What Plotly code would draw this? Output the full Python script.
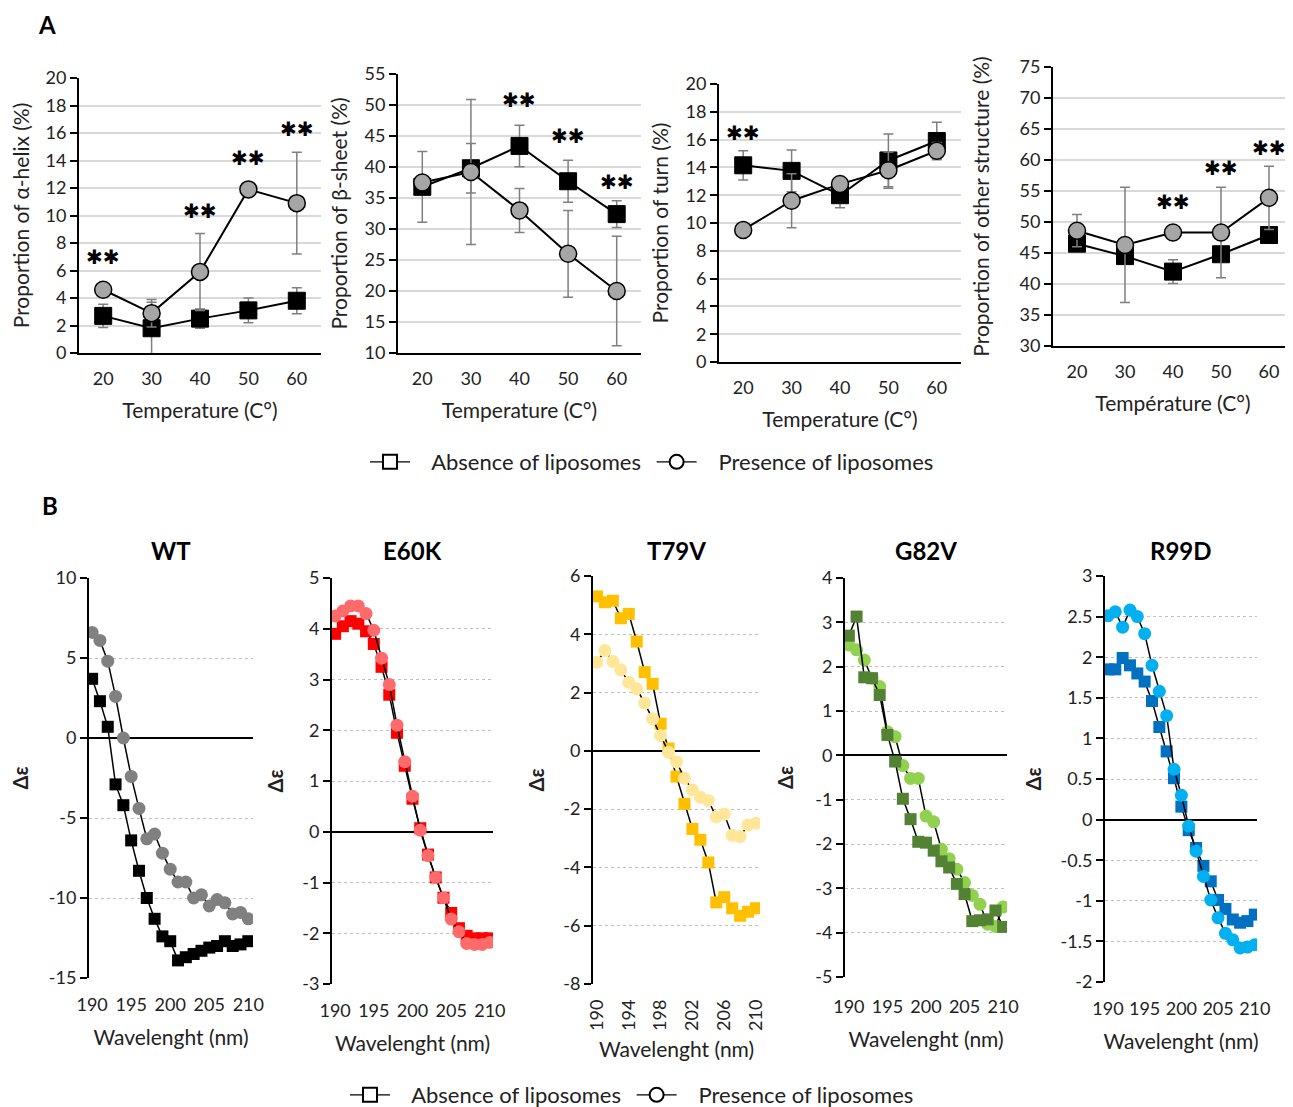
import plotly.graph_objects as go

# page offset (browser body margin) compensation
OX, OY = 8, 8
W, H = 1293 - OX, 1107 - OY
FONT = "Lato"

# ---------------- Panel A data ----------------
temps = [20, 30, 40, 50, 60]
temp_ticks = ["20", "30", "40", "50", "60"]

helix_abs = [2.7, 1.8, 2.5, 3.1, 3.8]
helix_abs_err = [0.85, 1.9, 0.7, 0.9, 0.95]
helix_pre = [4.6, 2.9, 5.9, 11.9, 10.9]
helix_pre_err = [0.3, 1.0, 2.8, 0.3, 3.7]
helix_star_t = [20, 40, 50, 60]
helix_star_y = [7.0, 10.3, 14.2, 16.3]

sheet_abs = [36.8, 39.8, 43.4, 37.7, 32.4]
sheet_abs_err = [5.7, 4.0, 3.35, 3.4, 2.15]
sheet_pre = [37.5, 39.2, 33.0, 26.0, 20.0]
sheet_pre_err = [1.0, 11.7, 3.55, 7.0, 8.85]
sheet_star_t = [40, 50, 60]
sheet_star_y = [50.8, 45.0, 37.6]

turn_abs = [14.15, 13.75, 12.0, 14.5, 15.9]
turn_abs_err = [1.05, 1.5, 0.9, 1.9, 1.35]
turn_pre = [9.5, 11.6, 12.8, 13.8, 15.2]
turn_pre_err = [0.3, 1.95, 0.3, 1.3, 0.6]
turn_star_t = [20]
turn_star_y = [16.5]

other_abs = [46.5, 44.5, 42.0, 44.8, 47.9]
other_abs_err = [0.7, 0.8, 1.9, 0.8, 0.8]
other_pre = [48.6, 46.3, 48.3, 48.3, 53.9]
other_pre_err = [2.6, 9.3, 0.5, 7.3, 5.1]
other_star_t = [40, 50, 60]
other_star_y = [53.2, 58.7, 61.9]

# ---------------- Panel B data ----------------
wavelength = list(range(190, 211))

wt_abs = [3.7, 2.3, 0.7, -2.9, -4.2, -6.4, -8.3, -10.0, -11.3, -12.4, -12.7,
          -13.9, -13.7, -13.5, -13.3, -13.1, -13.0, -12.7, -13.0, -12.9, -12.7]
wt_pre = [6.6, 6.1, 4.8, 2.6, 0.0, -2.4, -4.4, -6.3, -6.0, -7.2, -8.2,
          -9.0, -9.0, -10.0, -9.8, -10.5, -10.1, -10.3, -11.0, -10.9, -11.3]

e60k_abs = [3.9, 4.05, 4.15, 4.1, 3.95, 3.7, 3.25, 2.7, 1.95, 1.3, 0.65,
            0.07, -0.45, -0.9, -1.3, -1.6, -1.9, -2.05, -2.1, -2.1, -2.1]
e60k_pre = [4.25, 4.35, 4.45, 4.45, 4.3, 3.97, 3.42, 2.9, 2.1, 1.38, 0.7,
            0.03, -0.47, -0.9, -1.3, -1.72, -1.97, -2.2, -2.22, -2.22, -2.18]

t79v_abs = [5.3, 5.1, 5.15, 4.55, 4.7, 3.75, 2.7, 2.3, 0.93, 0.08, -0.88,
            -1.82, -2.68, -3.05, -3.83, -5.2, -5.02, -5.4, -5.66, -5.52, -5.4]
t79v_pre = [3.04, 3.44, 3.07, 2.78, 2.35, 2.13, 1.64, 1.1, 0.53, -0.05, -0.38,
            -0.94, -1.34, -1.59, -1.7, -2.27, -2.17, -2.9, -2.94, -2.54, -2.48]

g82v_abs = [2.7, 3.13, 1.76, 1.74, 1.36, 0.46, -0.14, -0.98, -1.44, -1.95, -1.97,
            -2.15, -2.39, -2.53, -2.9, -3.13, -3.74, -3.72, -3.7, -3.5, -3.87]
g82v_pre = [2.49, 2.38, 2.15, 1.74, 1.55, 0.53, 0.42, -0.23, -0.52, -0.52, -1.37,
            -1.5, -2.12, -2.33, -2.57, -2.87, -3.16, -3.36, -3.81, -3.86, -3.42]

r99d_abs = [1.85, 1.85, 1.99, 1.9, 1.8, 1.7, 1.46, 1.14, 0.84, 0.51, 0.16,
            -0.13, -0.35, -0.57, -0.76, -0.99, -1.1, -1.23, -1.27, -1.25, -1.17]
r99d_pre = [2.51, 2.56, 2.37, 2.58, 2.5, 2.29, 1.9, 1.58, 1.28, 0.62, 0.3,
            -0.08, -0.39, -0.7, -0.99, -1.21, -1.4, -1.48, -1.58, -1.57, -1.54]

fig = go.Figure()


def px(x):
    return (x - OX) / W


def py(y):
    return 1 - (y - OY) / H


def xd(p0, p1):
    return [max(0, px(p0)), min(1, px(p1))]


def yd(top, bot):
    return [py(bot), py(top)]


def fmt(v):
    s = ("%g" % v)
    return s


TICKFONT = dict(family=FONT, size=18, color="#222")
TITLEFONT = dict(family=FONT, size=21, color="#222")

# ---------------- Panel A ----------------
panelA = [
    dict(abs=helix_abs, abse=helix_abs_err, pre=helix_pre, pree=helix_pre_err,
         st=helix_star_t, sy=helix_star_y, yr=[0, 20], dt=2,
         ytitle="Proportion of α-helix (%)", xtitle="Temperature (C°)",
         xdom=(79, 321), ydom=(78, 353), ys=13),
    dict(abs=sheet_abs, abse=sheet_abs_err, pre=sheet_pre, pree=sheet_pre_err,
         st=sheet_star_t, sy=sheet_star_y, yr=[10, 55], dt=5,
         ytitle="Proportion of β-sheet (%)", xtitle="Temperature (C°)",
         xdom=(398, 641), ydom=(74, 353), ys=11),
    dict(abs=turn_abs, abse=turn_abs_err, pre=turn_pre, pree=turn_pre_err,
         st=turn_star_t, sy=turn_star_y, yr=[0, 20], dt=2,
         ytitle="Proportion of turn (%)", xtitle="Temperature (C°)",
         xdom=(719, 961), ydom=(84, 362), ys=11),
    dict(abs=other_abs, abse=other_abs_err, pre=other_pre, pree=other_pre_err,
         st=other_star_t, sy=other_star_y, yr=[30, 75], dt=5,
         ytitle="Proportion of other structure (%)", xtitle="Température (C°)",
         xdom=(1053, 1296), ydom=(67, 346), ys=24),
]

annotations = []
layout_axes = {}
for i, p in enumerate(panelA):
    n = i + 1
    xa, ya = f"x{n}", f"y{n}"
    err_style = dict(type="data", visible=True, color="#7f7f7f", thickness=1.5, width=5)
    fig.add_trace(go.Scatter(
        x=temps, y=p["abs"], mode="lines+markers", xaxis=xa, yaxis=ya,
        line=dict(color="black", width=2),
        marker=dict(symbol="square", size=17, color="black", line=dict(color="black", width=1)),
        error_y=dict(array=p["abse"], **err_style), showlegend=False, cliponaxis=False))
    fig.add_trace(go.Scatter(
        x=temps, y=p["pre"], mode="lines+markers", xaxis=xa, yaxis=ya,
        line=dict(color="black", width=2),
        marker=dict(symbol="circle", size=17, color="#a6a6a6", line=dict(color="black", width=1.5)),
        error_y=dict(array=p["pree"], **err_style), showlegend=False, cliponaxis=False))
    for t, sy in zip(p["st"], p["sy"]):
        annotations.append(dict(x=t, y=sy, xref=xa, yref=ya, text="✱✱", showarrow=False,
                                xanchor="center", yanchor="middle",
                                font=dict(family="DejaVu Sans", size=20, color="black")))
    sfx = "" if n == 1 else str(n)
    lo, hi = p["yr"]
    yt = []
    v = lo
    while v <= hi + 1e-9:
        yt.append(v)
        v += p["dt"]
    layout_axes["xaxis" + sfx] = dict(
        domain=xd(*p["xdom"]), anchor=ya, range=[15, 65], tickvals=temps, ticktext=temp_ticks,
        showgrid=False, zeroline=False, showline=True, linecolor="black", linewidth=2,
        ticks="", tickfont=TICKFONT, ticklabelstandoff=8, automargin=False,
        title=dict(text=p["xtitle"], font=TITLEFONT, standoff=16), fixedrange=True)
    layout_axes["yaxis" + sfx] = dict(
        domain=yd(*p["ydom"]), anchor=xa, range=p["yr"], tickvals=yt, ticktext=[fmt(t) for t in yt],
        showgrid=True, gridcolor="#d9d9d9", gridwidth=1.5, zeroline=False,
        showline=True, linecolor="black", linewidth=2, ticks="outside", ticklen=7,
        tickcolor="black", tickwidth=2, tickfont=TICKFONT, automargin=False,
        title=dict(text=p["ytitle"], font=TITLEFONT, standoff=p["ys"]), fixedrange=True)

# ---------------- Panel B ----------------
panelB = [
    dict(name="WT", abs=wt_abs, pre=wt_pre, ca="#000000", cp="#808080", yr=[-15, 10], dt=5,
         xdom=(89, 253), ydom=(578, 978), xr=[189.6, 210.6], xt=[190, 195, 200, 205, 210], rot=0,
         circ_top=True, ys=17, tls=14, xs=16),
    dict(name="E60K", abs=e60k_abs, pre=e60k_pre, ca="#ff0000", cp="#ff6b6b", yr=[-3, 5], dt=1,
         xdom=(332, 493), ydom=(578, 984), xr=[189.6, 210.4], xt=[190, 195, 200, 205, 210], rot=0,
         circ_top=True, ys=13, tls=14, xs=16),
    dict(name="T79V", abs=t79v_abs, pre=t79v_pre, ca="#ffc000", cp="#ffe699", yr=[-8, 6], dt=2,
         xdom=(593, 760), ydom=(576, 984), xr=[189.5, 210.5], xt=[190, 194, 198, 202, 206, 210], rot=-90,
         circ_top=True, ys=13, tls=11, xs=12),
    dict(name="G82V", abs=g82v_abs, pre=g82v_pre, ca="#548235", cp="#92d050", yr=[-5, 4], dt=1,
         xdom=(845, 1007), ydom=(578, 977), xr=[189.5, 210.5], xt=[190, 195, 200, 205, 210], rot=0,
         circ_top=False, ys=16, tls=17, xs=16),
    dict(name="R99D", abs=r99d_abs, pre=r99d_pre, ca="#0070c0", cp="#00b0f0", yr=[-2, 3], dt=0.5,
         xdom=(1105, 1257), ydom=(576, 982), xr=[189.6, 210.3], xt=[190, 195, 200, 205, 210], rot=0,
         circ_top=True, ys=14, tls=14, xs=16),
]

for j, p in enumerate(panelB):
    n = 5 + j
    xa, ya = f"x{n}", f"y{n}"
    sq = go.Scatter(x=wavelength, y=p["abs"], mode="lines+markers", xaxis=xa, yaxis=ya,
                    line=dict(color="black", width=1.5),
                    marker=dict(symbol="square", size=12, color=p["ca"]), showlegend=False)
    ci = go.Scatter(x=wavelength, y=p["pre"], mode="lines+markers", xaxis=xa, yaxis=ya,
                    line=dict(color="black", width=1.5),
                    marker=dict(symbol="circle", size=13, color=p["cp"]), showlegend=False)
    if p["circ_top"]:
        fig.add_trace(sq)
        fig.add_trace(ci)
    else:
        fig.add_trace(ci)
        fig.add_trace(sq)
    x0, x1 = p["xdom"]
    annotations.append(dict(x=px((x0 + x1) / 2), y=py(551), xref="paper", yref="paper",
                            xanchor="center", yanchor="middle",
                            text="<b>%s</b>" % p["name"], showarrow=False,
                            font=dict(family=FONT, size=24, color="black")))
    lo, hi = p["yr"]
    yt = []
    v = lo
    while v <= hi + 1e-9:
        yt.append(round(v, 3))
        v += p["dt"]
    layout_axes["xaxis%d" % n] = dict(
        domain=xd(*p["xdom"]), anchor=ya, range=p["xr"], tickvals=p["xt"],
        showgrid=False, zeroline=False, showline=False, ticks="", tickangle=p["rot"],
        tickfont=TICKFONT, ticklabelstandoff=p["tls"], automargin=False,
        title=dict(text="Wavelenght (nm)", font=TITLEFONT, standoff=p["xs"]), fixedrange=True)
    layout_axes["yaxis%d" % n] = dict(
        domain=yd(*p["ydom"]), anchor=xa, range=p["yr"], tickvals=yt, ticktext=[fmt(t) for t in yt],
        showgrid=True, gridcolor="#bfbfbf", gridwidth=1, griddash="dot",
        zeroline=True, zerolinecolor="black", zerolinewidth=1.5,
        showline=True, linecolor="black", linewidth=2, ticks="outside", ticklen=7,
        tickcolor="black", tickwidth=2, tickfont=TICKFONT, automargin=False,
        title=dict(text="<b>Δε</b>", font=dict(family=FONT, size=20, color="#222"), standoff=p["ys"]),
        fixedrange=True)

# ---------------- Legends ----------------
for leg in ["legend", "legend2"]:
    fig.add_trace(go.Scatter(x=[None], y=[None], mode="lines+markers",
                             name="\u00a0\u00a0\u00a0Absence of liposomes\u00a0",
                             line=dict(color="black", width=1.2),
                             marker=dict(symbol="square", size=14, color="white", line=dict(color="black", width=2)),
                             legend=leg, showlegend=True, xaxis="x", yaxis="y"))
    fig.add_trace(go.Scatter(x=[None], y=[None], mode="lines+markers",
                             name="\u00a0\u00a0\u00a0Presence of liposomes",
                             line=dict(color="black", width=1.2),
                             marker=dict(symbol="circle", size=14, color="white", line=dict(color="black", width=2)),
                             legend=leg, showlegend=True, xaxis="x", yaxis="y"))

legfont = dict(family=FONT, size=22, color="#222")
annotations.append(dict(x=px(47), y=py(24), xref="paper", yref="paper", text="<b>A</b>",
                        xanchor="center", yanchor="middle",
                        showarrow=False, font=dict(family=FONT, size=24, color="black")))
annotations.append(dict(x=px(50), y=py(506), xref="paper", yref="paper", text="<b>B</b>",
                        xanchor="center", yanchor="middle",
                        showarrow=False, font=dict(family=FONT, size=24, color="black")))

fig.update_layout(
    width=W, height=H, margin=dict(l=0, r=0, t=0, b=0, autoexpand=False),
    paper_bgcolor="white", plot_bgcolor="white",
    font=dict(family=FONT, color="#222"),
    annotations=annotations,
    legend=dict(orientation="h", x=px(652), xanchor="center", y=py(462), yanchor="middle",
                font=legfont, bgcolor="rgba(0,0,0,0)", itemwidth=40),
    legend2=dict(orientation="h", x=px(632), xanchor="center", y=py(1095), yanchor="middle",
                 font=legfont, bgcolor="rgba(0,0,0,0)", itemwidth=40),
    **layout_axes,
)

fig.write_html("out.html")
